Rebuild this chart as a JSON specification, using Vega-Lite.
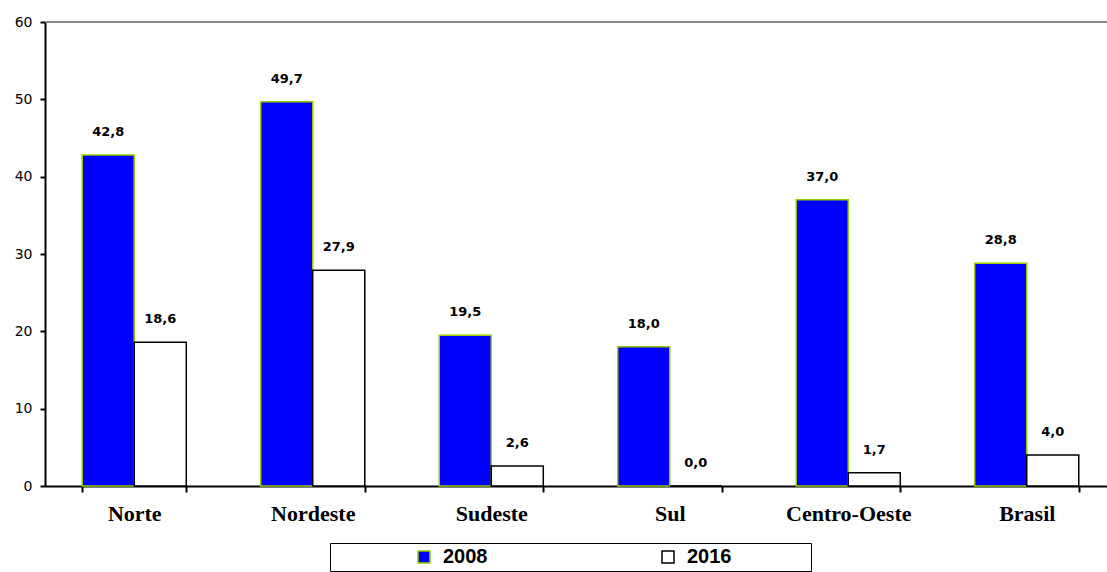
{
  "$schema": "https://vega.github.io/schema/vega-lite/v6.json",
  "width": 1071,
  "height": 464,
  "autosize": "none",
  "padding": {"left": 45, "top": 22, "right": 0, "bottom": 86},
  "background": "white",
  "config": {
    "view": {"stroke": null},
    "locale": {"number": {"decimal": ",", "thousands": ".", "grouping": [3], "currency": ["R$", ""]}}
  },
  "data": {
    "values": [
      {"regiao": "Norte", "ano": "2008", "valor": 42.8},
      {"regiao": "Norte", "ano": "2016", "valor": 18.6},
      {"regiao": "Nordeste", "ano": "2008", "valor": 49.7},
      {"regiao": "Nordeste", "ano": "2016", "valor": 27.9},
      {"regiao": "Sudeste", "ano": "2008", "valor": 19.5},
      {"regiao": "Sudeste", "ano": "2016", "valor": 2.6},
      {"regiao": "Sul", "ano": "2008", "valor": 18.0},
      {"regiao": "Sul", "ano": "2016", "valor": 0.0},
      {"regiao": "Centro-Oeste", "ano": "2008", "valor": 37.0},
      {"regiao": "Centro-Oeste", "ano": "2016", "valor": 1.7},
      {"regiao": "Brasil", "ano": "2008", "valor": 28.8},
      {"regiao": "Brasil", "ano": "2016", "valor": 4.0}
    ]
  },
  "layer": [
    {
      "mark": {"type": "bar", "strokeWidth": 1.5},
      "encoding": {
        "x": {
          "field": "regiao", "type": "nominal", "sort": null, "title": null,
          "scale": {"paddingInner": 0.417, "paddingOuter": 0.2085},
          "axis": {
            "labelAngle": 0, "labelFont": "Liberation Serif", "labelFontWeight": "bold",
            "labelFontSize": 22, "labelColor": "black", "labelPadding": 11,
            "domainColor": "black", "domainWidth": 2, "tickColor": "black", "tickWidth": 2,
            "tickSize": 6, "tickBand": "extent"
          }
        },
        "xOffset": {"field": "ano", "type": "nominal", "sort": ["2008", "2016"]},
        "y": {
          "field": "valor", "type": "quantitative", "title": null,
          "scale": {"domain": [0, 60], "nice": false},
          "axis": {
            "values": [0, 10, 20, 30, 40, 50, 60], "grid": false,
            "labelFont": "DejaVu Sans", "labelFontSize": 14, "labelColor": "black",
            "domainColor": "black", "domainWidth": 2, "tickColor": "black", "tickWidth": 2,
            "tickSize": 5, "labelPadding": 8
          }
        },
        "fill": {
          "field": "ano", "type": "nominal",
          "scale": {"domain": ["2008", "2016"], "range": ["#0000FF", "#FFFFFF"]},
          "legend": {
            "orient": "none", "legendX": 285, "legendY": 521, "direction": "horizontal",
            "columns": 2, "columnPadding": 15, "padding": 4,
            "strokeColor": "black",
            "symbolType": "square", "symbolSize": 144, "symbolStrokeWidth": 1.5,
            "symbolOffset": 80,
            "labelFont": "Liberation Sans", "labelFontWeight": "bold", "labelFontSize": 20,
            "labelColor": "black", "labelOffset": 9, "labelLimit": 400,
            "labelExpr": "datum.label + '\u2800\u2800\u2800\u2800\u2800'",
            "title": null
          }
        },
        "stroke": {
          "field": "ano", "type": "nominal",
          "scale": {"domain": ["2008", "2016"], "range": ["#99CC00", "#000000"]},
          "legend": null
        }
      }
    },
    {
      "mark": {"type": "text", "baseline": "bottom", "dy": -16, "font": "DejaVu Sans", "fontWeight": "bold", "fontSize": 13, "color": "black"},
      "encoding": {
        "x": {"field": "regiao", "type": "nominal", "sort": null},
        "xOffset": {"field": "ano", "type": "nominal", "sort": ["2008", "2016"]},
        "y": {"field": "valor", "type": "quantitative"},
        "text": {"field": "valor", "type": "quantitative", "format": ".1f"}
      }
    },
    {
      "mark": {"type": "rule", "color": "#888888", "strokeWidth": 1.5},
      "encoding": {"y": {"datum": 60}}
    }
  ]
}
